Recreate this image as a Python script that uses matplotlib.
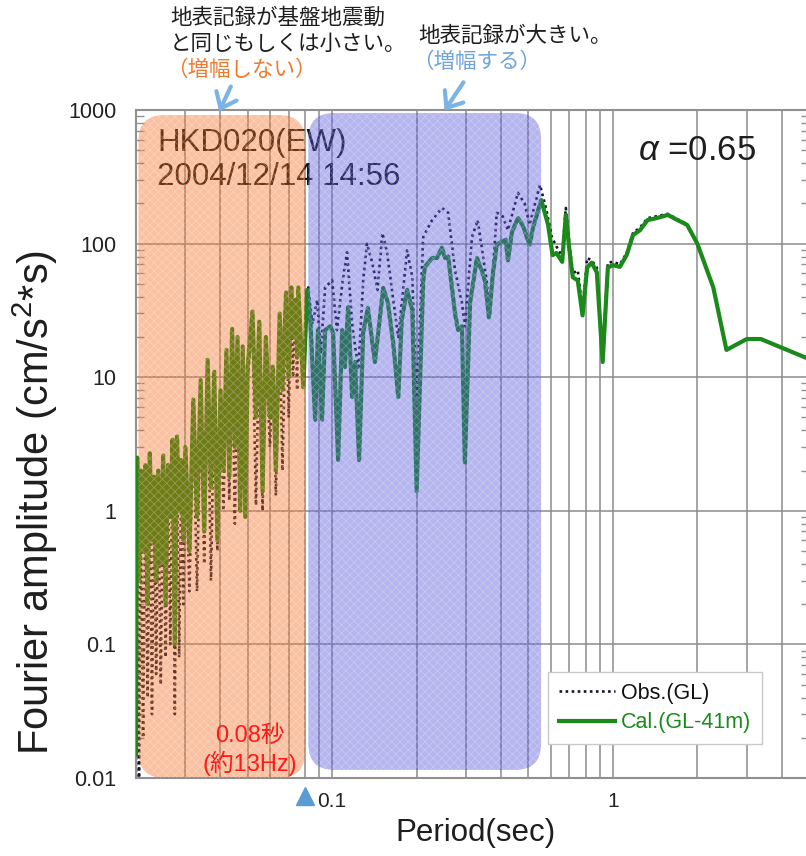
import matplotlib
matplotlib.use("Agg")
import matplotlib.pyplot as plt
import numpy as np
from matplotlib.patches import FancyBboxPatch
from matplotlib.transforms import IdentityTransform, blended_transform_factory

plt.rcParams['font.family'] = ['Liberation Sans', 'Noto Sans CJK JP', 'DejaVu Sans']
plt.rcParams['mathtext.fontset'] = 'custom'
plt.rcParams['mathtext.it'] = 'Liberation Sans:italic'
plt.rcParams['mathtext.rm'] = 'Liberation Sans'
plt.rcParams['hatch.linewidth'] = 0.6

# ---------------- data ----------------
period_cal = [0.0200, 0.0202, 0.0205, 0.0208, 0.0212, 0.0216, 0.0220, 0.0224, 0.0228, 0.0232,
              0.0236, 0.0240, 0.0245, 0.0250, 0.0255, 0.0260, 0.0265, 0.0270, 0.0275, 0.0280,
              0.0285, 0.0290, 0.0295, 0.0300, 0.0310, 0.0320, 0.0330, 0.0340, 0.0350, 0.0360,
              0.0370, 0.0380, 0.0390, 0.0400, 0.0410, 0.0420, 0.0430, 0.0440, 0.0450, 0.0460,
              0.0470, 0.0480, 0.0490, 0.0500, 0.0520, 0.0535, 0.0550, 0.0565, 0.0580, 0.0600,
              0.0615, 0.0630, 0.0650, 0.0665, 0.0685, 0.0700, 0.0715, 0.0725, 0.0740, 0.0750,
              0.0757, 0.0789, 0.0815, 0.0835, 0.0870, 0.0890, 0.0920, 0.0944, 0.0984, 0.1008,
              0.1050, 0.1085, 0.1110, 0.1140, 0.1178, 0.1207, 0.1247, 0.1290, 0.1340, 0.1420,
              0.1520, 0.1580, 0.1650, 0.1720, 0.1770, 0.1850, 0.1930, 0.2000, 0.2110, 0.2140,
              0.2270, 0.2360, 0.2460, 0.2525, 0.2590, 0.2740, 0.2810, 0.2900, 0.2970, 0.3100,
              0.3280, 0.3410, 0.3500, 0.3620, 0.3740, 0.3860, 0.4000, 0.4150, 0.4230, 0.4370,
              0.4590, 0.4770, 0.5050, 0.5190, 0.5560, 0.5880, 0.6100, 0.6300, 0.6600, 0.6800,
              0.7000, 0.7200, 0.7500, 0.7800, 0.8100, 0.8400, 0.8770, 0.9200, 0.9600, 1.0000,
              1.0600, 1.1200, 1.1800, 1.2500, 1.3300, 1.4300, 1.5700, 1.7000, 1.8400, 2.0000,
              2.2800, 2.5400, 3.0000, 3.3700, 4.8700, 5.0000]
amp_cal = [0.015, 2.5, 0.3, 2.0, 0.5, 2.2, 0.2, 2.7, 0.6, 1.8,
           0.3, 2.0, 0.4, 2.6, 0.2, 2.2, 0.9, 3.4, 0.1, 3.6,
           1.0, 2.4, 0.6, 3.0, 0.5, 6.8, 0.9, 9.5, 0.7, 13.5,
           1.5, 11.0, 0.6, 8.0, 2.0, 16.0, 1.8, 23.0, 3.0, 20.0,
           1.0, 17.0, 0.9, 12.0, 31.0, 5.0, 26.0, 1.4, 20.0, 5.0,
           12.0, 2.0, 30.0, 8.0, 43.0, 10.0, 47.0, 20.0, 38.0, 14.0,
           47.0, 8.4, 45.0, 28.0, 4.8, 22.5, 4.8, 22.5, 24.0, 21.5,
           2.4, 22.5, 11.9, 33.5, 7.1, 13.0, 2.4, 21.5, 33.0, 13.0,
           46.5, 36.0, 18.0, 7.1, 27.0, 45.0, 31.5, 1.4, 53.0, 67.0,
           78.0, 78.0, 93.0, 78.0, 80.0, 30.0, 22.5, 24.0, 2.3, 36.0,
           78.0, 63.0, 53.0, 28.0, 60.0, 98.0, 103.0, 107.0, 75.0, 122.0,
           155.0, 138.0, 98.0, 131.0, 212.0, 138.0, 82.0, 85.0, 73.0, 164.0,
           90.0, 56.0, 53.0, 29.0, 66.0, 72.0, 61.0, 13.0, 66.0, 69.0,
           67.0, 82.0, 116.0, 126.0, 150.0, 155.0, 164.0, 150.0, 138.0, 100.0,
           47.0, 16.0, 19.3, 19.3, 14.0, 13.8]

period_obs = [0.0200, 0.0202, 0.0205, 0.0208, 0.0212, 0.0216, 0.0220, 0.0224, 0.0228, 0.0232,
              0.0236, 0.0240, 0.0245, 0.0250, 0.0255, 0.0260, 0.0265, 0.0270, 0.0275, 0.0280,
              0.0285, 0.0290, 0.0295, 0.0300, 0.0310, 0.0320, 0.0330, 0.0340, 0.0350, 0.0360,
              0.0370, 0.0380, 0.0390, 0.0400, 0.0410, 0.0420, 0.0430, 0.0440, 0.0450, 0.0460,
              0.0470, 0.0480, 0.0490, 0.0500, 0.0520, 0.0535, 0.0550, 0.0565, 0.0580, 0.0600,
              0.0615, 0.0630, 0.0650, 0.0665, 0.0685, 0.0700, 0.0715, 0.0725, 0.0740, 0.0750,
              0.0757, 0.0789, 0.0822, 0.0850, 0.0885, 0.0910, 0.0944, 0.1000, 0.1040, 0.1090,
              0.1130, 0.1180, 0.1240, 0.1290, 0.1330, 0.1390, 0.1450, 0.1510, 0.1570, 0.1670,
              0.1720, 0.1850, 0.1930, 0.2000, 0.2110, 0.2270, 0.2460, 0.2590, 0.2740, 0.2900,
              0.2970, 0.3150, 0.3300, 0.3550, 0.3650, 0.3860, 0.4050, 0.4230, 0.4590, 0.4850,
              0.5050, 0.5500, 0.5800, 0.6060, 0.6300, 0.6600, 0.6800, 0.7000, 0.7200, 0.7500,
              0.7800, 0.8100, 0.8400, 0.8770, 0.9200, 0.9600, 1.0000, 1.0600, 1.1200, 1.1800,
              1.2500, 1.3300, 1.4300, 1.5700, 1.7000, 1.8400, 2.0000, 2.2800, 2.5400, 3.0000,
              3.3700, 4.8700, 5.0000]
amp_obs = [0.01, 1.5, 0.01, 1.2, 0.02, 1.5, 0.04, 2.0, 0.03, 1.2,
           0.06, 1.6, 0.05, 2.0, 0.08, 1.8, 0.1, 2.8, 0.03, 2.5,
           0.08, 2.0, 0.2, 2.6, 0.25, 5.0, 0.25, 7.0, 0.4, 10.0,
           0.3, 8.0, 0.5, 7.0, 1.0, 12.0, 1.2, 18.0, 0.8, 15.0,
           1.0, 12.0, 1.5, 10.0, 25.0, 1.1, 20.0, 1.0, 16.0, 3.0,
           10.0, 1.3, 25.0, 2.0, 38.0, 5.0, 40.0, 10.0, 35.0, 8.0,
           45.0, 10.0, 47.0, 25.0, 38.0, 15.0, 47.0, 53.0, 22.5, 53.0,
           86.0, 24.0, 11.4, 53.0, 100.0, 72.0, 45.0, 120.0, 85.0, 31.5,
           20.0, 89.0, 56.0, 6.0, 112.0, 150.0, 185.0, 170.0, 63.0, 36.0,
           24.0, 112.0, 150.0, 53.0, 30.0, 170.0, 160.0, 126.0, 240.0, 200.0,
           138.0, 275.0, 178.0, 112.0, 95.0, 80.0, 185.0, 100.0, 60.0, 63.0,
           32.0, 78.0, 75.0, 66.0, 14.0, 72.0, 73.0, 70.0, 85.0, 120.0,
           132.0, 155.0, 160.0, 167.0, 152.0, 140.0, 100.0, 47.0, 16.0, 19.3,
           19.3, 14.0, 13.8]

y_ticks = [0.01, 0.1, 1, 10, 100, 1000]
y_ticklabels = ["0.01", "0.1", "1", "10", "100", "1000"]
x_ticks = [0.1, 1]
x_ticklabels = ["0.1", "1"]
boundary_period = 0.08

# ---------------- figure ----------------
W, H = 806, 856
fig = plt.figure(figsize=(W / 100, H / 100), dpi=100)
ax = fig.add_axes([136 / W, (H - 778) / H, 673 / W, 668 / H])
ax.set_xscale('log')
ax.set_yscale('log')
ax.set_xlim(0.02, 5.0)
ax.set_ylim(0.01, 1000)

ax.grid(True, which='both', axis='x', color='#8c8c8c', lw=1.1, zorder=0)
ax.grid(True, which='major', axis='y', color='#8c8c8c', lw=1.1, zorder=0)
ax.set_axisbelow(True)
for s in ax.spines.values():
    s.set_color('#909090')
    s.set_linewidth(1.5)

ax.set_yticks(y_ticks)
ax.set_yticklabels(y_ticklabels)
ax.set_xticks(x_ticks)
ax.set_xticklabels(x_ticklabels)
ax.xaxis.set_minor_formatter(matplotlib.ticker.NullFormatter())
ax.tick_params(axis='y', which='both', direction='in', left=True, right=True,
               labelsize=15.5, pad=14, colors='#909090', labelcolor='#222222')
ax.tick_params(axis='y', which='major', length=0)
ax.tick_params(axis='y', which='minor', length=6, width=1)
ax.tick_params(axis='x', which='both', length=0, labelsize=15, pad=10, labelcolor='#222222')

# curves
ax.plot(period_obs, amp_obs, color='#15152a', lw=1.9, ls=(0, (1.0, 1.3)), zorder=2,
        label='Obs.(GL)')
ax.plot(period_cal, amp_cal, color='#1a8a1a', lw=3.0, zorder=3, label='Cal.(GL-41m)')

# station text (below overlays)
ax.text(157, H - 143, 'HKD020(EW)', transform=IdentityTransform(), fontsize=22.5,
        color='#141414', va='center', ha='left', zorder=4)
ax.text(157, H - 177, '2004/12/14 14:56', transform=IdentityTransform(), fontsize=22.5,
        color='#141414', va='center', ha='left', zorder=4)


def rbox(x0, x1, y0, y1, face, hatchcol):
    p0 = ax.transData.transform((x0, y0))
    p1 = ax.transData.transform((x1, y1))
    patch = FancyBboxPatch((p0[0], p0[1]), p1[0] - p0[0], p1[1] - p0[1],
                           boxstyle='round,pad=0,rounding_size=26',
                           transform=IdentityTransform(), facecolor=face,
                           edgecolor=hatchcol, lw=0, hatch='xxxx', zorder=5)
    ax.add_patch(patch)


rbox(0.0204, boundary_period, 0.01, 917, (0.94, 0.40, 0.08, 0.40), (1, 1, 1, 0.25))
rbox(0.0822, 0.555, 0.0115, 950, (0.31, 0.31, 0.86, 0.42), (1, 1, 1, 0.25))

# red boundary text
ax.text(250, H - 736, '0.08秒', transform=IdentityTransform(), fontsize=17,
        color='#ff1a1a', ha='center', va='center', zorder=7)
ax.text(250, H - 763, '(約13Hz)', transform=IdentityTransform(), fontsize=17,
        color='#ff1a1a', ha='center', va='center', zorder=7)

# alpha text
ax.text(697, H - 150, r'$\alpha$ =0.65', transform=IdentityTransform(), fontsize=25,
        color='#1e1e1e', ha='center', va='center', zorder=7)

# boundary marker triangle
trans = blended_transform_factory(ax.transData, ax.transAxes)
ax.plot([boundary_period], [-0.027], marker='^', ms=13, color='#5b9bd5',
        transform=trans, clip_on=False, zorder=8)

# legend
leg = ax.legend(loc='upper left', bbox_to_anchor=((548 - 136) / 673, (778 - 672) / 668),
                borderaxespad=0, fontsize=15.5, frameon=True, fancybox=False,
                edgecolor='#c8c8c8', framealpha=1, handlelength=2.6, handletextpad=0.3,
                borderpad=0.5, labelspacing=0.4, labelcolor=['#111111', '#1a8a1a'])
leg.set_zorder(10)
leg.get_frame().set_linewidth(1.0)

# axis labels
ax.set_xlabel('Period(sec)', fontsize=22.5, color='#1e1e1e')
ax.xaxis.set_label_coords((475 - 136) / 673, -(818 - 778) / 668)
ax.set_ylabel(r'Fourier amplitude (cm/s$^2$*s)', fontsize=30, color='#1e1e1e')
ax.yaxis.set_label_coords(-(136 - 60) / 673, (778 - 502) / 668)

# annotations above the plot
fig.text(170 / W, 1 - 18 / H, '地表記録が基盤地震動', fontsize=15.5, color='#1e1e1e',
         ha='left', va='center')
fig.text(170 / W, 1 - 44 / H, 'と同じもしくは小さい。', fontsize=15.5, color='#1e1e1e',
         ha='left', va='center')
fig.text(166 / W, 1 - 70 / H, '（増幅しない）', fontsize=15.5, color='#f07a30',
         ha='left', va='center')
fig.text(418 / W, 1 - 36 / H, '地表記録が大きい。', fontsize=15.5, color='#1e1e1e',
         ha='left', va='center')
fig.text(412 / W, 1 - 62 / H, '（増幅する）', fontsize=15.5, color='#6fa3dc',
         ha='left', va='center')

fig.add_artist(matplotlib.patches.FancyArrowPatch(
    (232 / W, 1 - 84 / H), (218 / W, 1 - 114 / H), transform=fig.transFigure,
    arrowstyle='->,head_length=5,head_width=4', color='#7ab4e6', lw=3, mutation_scale=2))
fig.add_artist(matplotlib.patches.FancyArrowPatch(
    (465 / W, 1 - 80 / H), (443 / W, 1 - 113 / H), transform=fig.transFigure,
    arrowstyle='->,head_length=5,head_width=4', color='#7ab4e6', lw=3, mutation_scale=2))

fig.savefig('out.png', dpi=100)
